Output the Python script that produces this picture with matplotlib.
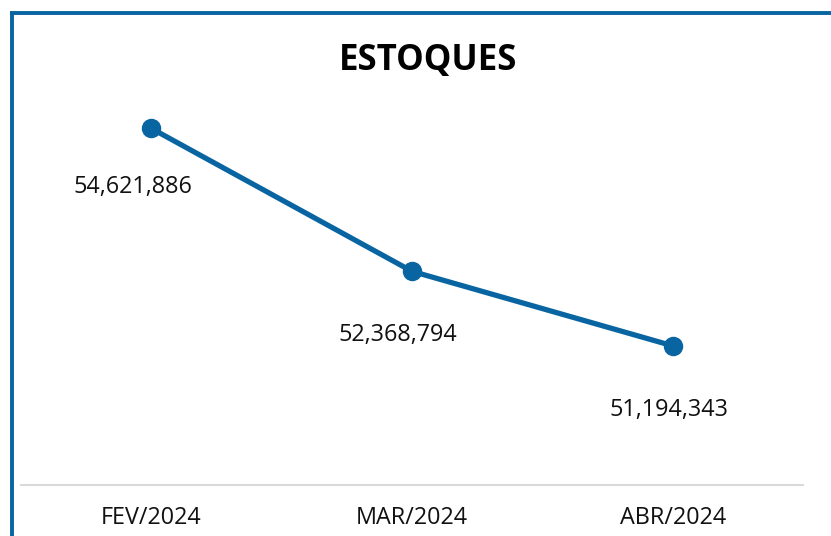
import matplotlib
matplotlib.use("Agg")
import matplotlib.pyplot as plt
from matplotlib.lines import Line2D

plt.rcParams['font.family'] = ['Open Sans', 'DejaVu Sans']

categories = ["FEV/2024", "MAR/2024", "ABR/2024"]
values = [54621886, 52368794, 51194343]
title = "ESTOQUES"

# label offsets (points) – layout only
label_offsets = [(-13.5, -42), (-10, -46), (-2.5, -46)]

W, H = 831, 536
fig = plt.figure(figsize=(W / 100, H / 100), dpi=100)
ax = fig.add_axes([21 / W, 1 - 485 / H, (803 - 21) / W, (485 - 41) / H])

color = "#0865a2"
x = list(range(len(categories)))
ax.plot(x, values, color=color, lw=3.8, marker="o", markersize=13, zorder=3,
        solid_capstyle="round")
for xi, v, off in zip(x, values, label_offsets):
    ax.annotate(f"{v:,}", (xi, v), xytext=off, textcoords="offset points",
                ha="center", va="center", fontsize=16.8, color="#111111")

ax.set_xlim(-0.5, len(categories) - 0.5)
ax.set_ylim(49_000_000, 56_000_000)
ax.set_xticks(x)
ax.set_xticklabels(categories, fontsize=16.8, color="#111111")
ax.tick_params(axis="x", length=0, pad=15)
ax.set_yticks([])
for s in ["top", "right", "left"]:
    ax.spines[s].set_visible(False)
ax.spines["bottom"].set_color("#d9d9d9")
ax.spines["bottom"].set_linewidth(1.5)

fig.text(428 / W, 1 - 61 / H, title, ha="center", va="center",
         fontsize=25, fontweight="bold", color="black")

# frame lines (top and left)
fig.add_artist(Line2D([10 / W, 1], [1 - 13 / H, 1 - 13 / H], transform=fig.transFigure,
                      color=color, lw=2.8, solid_capstyle="butt"))
fig.add_artist(Line2D([11.5 / W, 11.5 / W], [1 - 11.5 / H, 0], transform=fig.transFigure,
                      color=color, lw=2.8, solid_capstyle="butt"))

fig.savefig("out.png", dpi=100)
